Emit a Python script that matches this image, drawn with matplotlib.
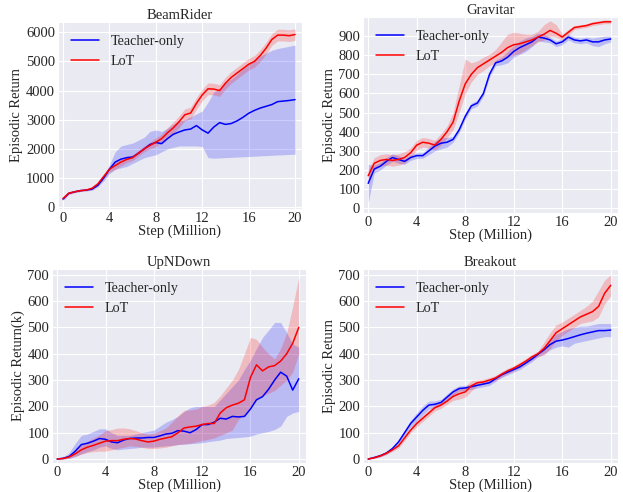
import numpy as np
import matplotlib
matplotlib.use("Agg")
import matplotlib.pyplot as plt
import seaborn as sns

steps = np.linspace(0, 20, 41)

# BeamRider
br_lot = [300, 480, 530, 570, 590, 650, 800, 1050, 1300, 1430, 1550, 1640, 1700, 1850, 2000, 2120, 2230, 2350, 2550, 2720,
          2930, 3170, 3230, 3560, 3850, 4060, 4050, 4000, 4250, 4450, 4600, 4750, 4900, 5000, 5200, 5450, 5750, 5900, 5900, 5880, 5920]
br_lot_lo = [250, 440, 500, 540, 560, 610, 740, 970, 1200, 1300, 1420, 1530, 1600, 1750, 1900, 2000, 2080, 2200, 2370, 2520,
             2730, 2970, 3030, 3360, 3650, 3860, 3850, 3800, 4050, 4250, 4400, 4550, 4700, 4800, 5000, 5250, 5550, 5700, 5700, 5680, 5720]
br_lot_hi = [350, 520, 560, 600, 620, 690, 860, 1130, 1400, 1560, 1680, 1750, 1800, 1950, 2100, 2240, 2380, 2500, 2730, 2920,
             3130, 3370, 3430, 3760, 4050, 4260, 4250, 4200, 4450, 4650, 4800, 4950, 5100, 5200, 5400, 5650, 5950, 6100, 6100, 6080, 6120]
br_teach = [280, 480, 530, 570, 590, 620, 750, 1000, 1300, 1550, 1650, 1700, 1720, 1850, 2000, 2150, 2220, 2180, 2350, 2500,
            2580, 2650, 2680, 2800, 2650, 2540, 2750, 2900, 2840, 2870, 2960, 3080, 3220, 3320, 3400, 3460, 3520, 3620, 3640, 3660, 3690]
br_teach_lo = [230, 440, 500, 540, 560, 580, 700, 900, 1150, 1300, 1350, 1400, 1500, 1600, 1700, 1750, 1800, 1900, 2000, 2050,
               2100, 2100, 2100, 2100, 2080, 1700, 1680, 1690, 1700, 1710, 1720, 1730, 1740, 1750, 1760, 1770, 1780, 1790, 1800, 1810, 1820]
br_teach_hi = [330, 520, 560, 600, 620, 660, 800, 1100, 1450, 1900, 2100, 2150, 2200, 2300, 2400, 2600, 2650, 2600, 2700, 2850,
               2950, 3000, 3100, 3200, 3300, 3600, 3950, 4080, 4250, 4400, 4550, 4750, 4920, 5050, 5180, 5280, 5380, 5440, 5480, 5520, 5560]

# Gravitar
gv_lot = [170, 235, 250, 255, 250, 255, 265, 290, 330, 345, 340, 330, 360, 400, 450, 560, 650, 700, 735, 755,
          775, 795, 815, 840, 855, 860, 870, 880, 895, 910, 930, 915, 895, 920, 945, 950, 955, 965, 970, 975, 975]
gv_lot_lo = [140, 205, 220, 225, 220, 225, 235, 265, 305, 320, 315, 305, 330, 370, 410, 500, 600, 660, 700, 720,
             745, 760, 770, 790, 800, 810, 830, 850, 870, 880, 900, 895, 880, 905, 935, 940, 945, 955, 960, 965, 965]
gv_lot_hi = [200, 265, 280, 285, 280, 285, 295, 315, 355, 370, 365, 355, 390, 430, 500, 640, 780, 760, 770, 790,
             805, 830, 870, 910, 920, 915, 910, 910, 925, 960, 980, 960, 910, 935, 955, 960, 965, 975, 980, 985, 985]
gv_teach = [130, 205, 220, 245, 265, 255, 245, 265, 275, 275, 300, 325, 340, 345, 360, 410, 480, 535, 550, 600,
            700, 760, 770, 790, 820, 840, 855, 870, 895, 890, 880, 860, 870, 895, 880, 875, 880, 870, 870, 880, 885]
gv_teach_lo = [30, 185, 200, 225, 245, 235, 230, 250, 260, 262, 280, 300, 310, 320, 345, 395, 465, 520, 535, 585,
               685, 745, 750, 760, 790, 805, 820, 845, 875, 870, 865, 845, 855, 880, 865, 860, 865, 850, 845, 860, 870]
gv_teach_hi = [230, 225, 240, 265, 285, 275, 260, 280, 290, 290, 320, 350, 370, 370, 375, 425, 495, 550, 565, 615,
               715, 775, 790, 820, 850, 875, 890, 900, 915, 910, 895, 875, 885, 910, 895, 890, 895, 890, 895, 900, 900]

# UpNDown (k)
ud_lot = [0, 2, 8, 20, 35, 45, 52, 60, 68, 70, 70, 75, 78, 76, 70, 65, 68, 75, 80, 85,
          100, 118, 122, 125, 131, 135, 135, 175, 195, 205, 212, 225, 310, 358, 335, 350, 355, 372, 400, 440, 500]
ud_lot_lo = [0, 0, 3, 10, 18, 25, 28, 30, 30, 35, 40, 45, 50, 48, 45, 40, 40, 42, 45, 50,
             55, 58, 60, 65, 70, 75, 80, 90, 100, 110, 150, 170, 200, 230, 240, 250, 260, 280, 300, 330, 400]
ud_lot_hi = [2, 5, 14, 32, 55, 68, 80, 92, 108, 112, 118, 118, 115, 108, 100, 95, 98, 108, 118, 140,
             165, 185, 187, 190, 200, 205, 215, 240, 270, 300, 340, 400, 462, 455, 425, 400, 380, 420, 480, 580, 690]
ud_teach = [0, 3, 10, 30, 55, 60, 68, 78, 75, 65, 62, 72, 78, 80, 80, 82, 82, 88, 95, 98,
            108, 106, 100, 112, 131, 131, 140, 155, 152, 162, 160, 162, 190, 225, 237, 265, 300, 330, 315, 262, 305]
ud_teach_lo = [0, 0, 2, 10, 20, 28, 35, 45, 50, 40, 35, 38, 40, 42, 45, 45, 45, 48, 50, 52,
               55, 56, 58, 60, 62, 66, 69, 72, 78, 80, 82, 84, 87, 95, 100, 105, 112, 125, 162, 175, 181]
ud_teach_hi = [2, 8, 25, 60, 90, 95, 105, 115, 115, 100, 90, 90, 90, 95, 100, 105, 110, 125, 140, 150,
               162, 180, 195, 200, 200, 200, 200, 225, 250, 275, 300, 340, 375, 420, 462, 490, 519, 519, 480, 437, 425]

# Breakout
bo_lot = [0, 5, 12, 22, 35, 50, 80, 110, 135, 155, 175, 195, 205, 220, 238, 248, 255, 278, 290, 293,
          300, 308, 322, 335, 345, 358, 372, 388, 400, 420, 450, 480, 495, 510, 525, 540, 550, 560, 580, 630, 660]
bo_lot_lo = [0, 2, 8, 17, 29, 42, 70, 100, 123, 143, 163, 183, 193, 208, 223, 228, 235, 258, 280, 283,
             290, 298, 312, 325, 335, 348, 362, 378, 390, 395, 420, 450, 470, 485, 500, 515, 520, 525, 540, 590, 620]
bo_lot_hi = [2, 8, 16, 27, 41, 58, 90, 120, 147, 167, 187, 207, 217, 232, 253, 268, 275, 298, 300, 303,
             310, 318, 332, 345, 355, 368, 382, 398, 410, 445, 480, 510, 520, 535, 550, 565, 580, 600, 640, 680, 700]
bo_teach = [0, 6, 13, 23, 40, 65, 100, 135, 160, 185, 205, 208, 215, 235, 255, 268, 270, 275, 280, 285,
            290, 305, 320, 330, 340, 350, 365, 380, 398, 415, 435, 448, 452, 458, 465, 472, 478, 483, 488, 488, 490]
bo_teach_lo = [0, 3, 9, 18, 34, 57, 90, 122, 145, 168, 190, 195, 203, 223, 243, 258, 260, 265, 270, 275,
               280, 295, 310, 320, 330, 340, 355, 370, 388, 400, 415, 425, 430, 425, 440, 445, 450, 455, 460, 465, 465]
bo_teach_hi = [2, 9, 17, 28, 46, 73, 110, 148, 175, 202, 220, 221, 227, 247, 267, 278, 280, 285, 290, 295,
               300, 315, 330, 340, 350, 360, 375, 390, 408, 430, 455, 475, 485, 495, 500, 505, 505, 510, 515, 515, 515]

sns.set_style("darkgrid")
plt.rcParams['font.family'] = ['Liberation Serif', 'DejaVu Serif']
plt.rcParams['font.size'] = 10.5

fig, axes = plt.subplots(2, 2, figsize=(6.23, 4.92), dpi=100)

panels = [
    ("BeamRider", "Episodic Return", br_teach, br_teach_lo, br_teach_hi, br_lot, br_lot_lo, br_lot_hi,
     (-60, 6350), np.arange(0, 6001, 1000)),
    ("Gravitar", "Episodic Return", gv_teach, gv_teach_lo, gv_teach_hi, gv_lot, gv_lot_lo, gv_lot_hi,
     (-25, 1000), np.arange(0, 901, 100)),
    ("UpNDown", "Episodic Return(k)", ud_teach, ud_teach_lo, ud_teach_hi, ud_lot, ud_lot_lo, ud_lot_hi,
     (-15, 722), np.arange(0, 701, 100)),
    ("Breakout", "Episodic Return", bo_teach, bo_teach_lo, bo_teach_hi, bo_lot, bo_lot_lo, bo_lot_hi,
     (-15, 722), np.arange(0, 701, 100)),
]

# axes boxes in pixels: left, right, top, bottom
boxes = [(58, 302, 22, 209), (363, 618, 17, 213), (52, 306, 269, 463), (363, 618, 269, 463)]

for ax, p, box in zip(axes.flat, panels, boxes):
    title, ylabel, t, tlo, thi, l, llo, lhi, ylim, yticks = p
    ax.fill_between(steps, tlo, thi, color='blue', alpha=0.2, linewidth=0)
    ax.fill_between(steps, llo, lhi, color='red', alpha=0.2, linewidth=0)
    ax.plot(steps, t, color='blue', lw=1.1, label='Teacher-only')
    ax.plot(steps, l, color='red', lw=1.1, label='LoT')
    ax.set_title(title, fontsize=10.5, pad=2)
    ax.set_xlabel('Step (Million)', fontsize=10.5, labelpad=0)
    ax.set_ylabel(ylabel, fontsize=10.5, labelpad=2)
    ax.set_xlim(-0.43, 20.6)
    ax.set_ylim(*ylim)
    ax.set_xticks([0, 4, 8, 12, 16, 20])
    ax.set_yticks(yticks)
    ax.tick_params(labelsize=10.5, length=0, pad=2)
    ax.legend(loc='upper left', frameon=False, fontsize=10.2)
    x0, x1, y0, y1 = box
    ax.set_position([x0 / 623, 1 - y1 / 492, (x1 - x0) / 623, (y1 - y0) / 492])

plt.savefig('out.png', dpi=100)
